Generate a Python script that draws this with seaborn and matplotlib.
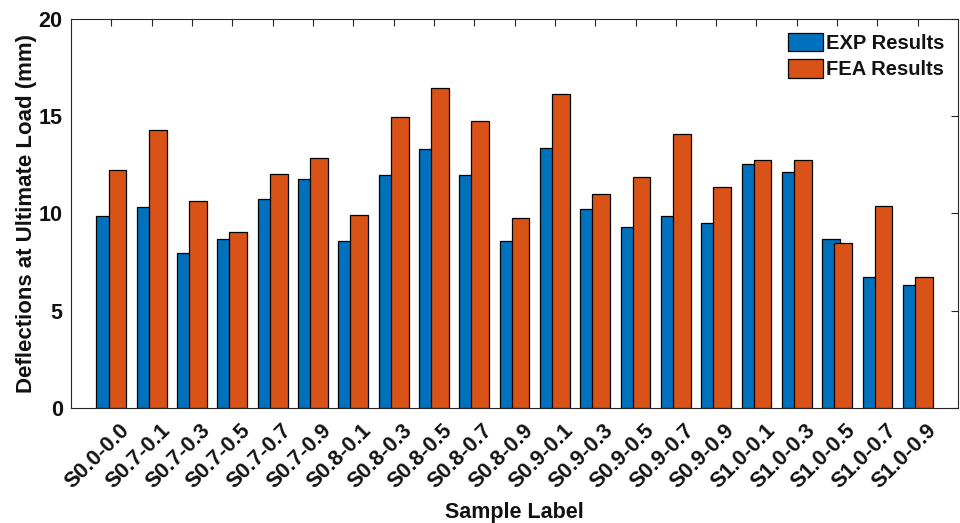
import pandas as pd
import matplotlib
matplotlib.use("Agg")
import matplotlib.pyplot as plt
import matplotlib.transforms as mtransforms
import seaborn as sns

sns.set_style("white")
plt.rcParams["font.family"] = ["Liberation Sans", "DejaVu Sans"]
plt.rcParams["font.weight"] = "bold"

samples = ["S0.0-0.0", "S0.7-0.1", "S0.7-0.3", "S0.7-0.5", "S0.7-0.7", "S0.7-0.9",
           "S0.8-0.1", "S0.8-0.3", "S0.8-0.5", "S0.8-0.7", "S0.8-0.9",
           "S0.9-0.1", "S0.9-0.3", "S0.9-0.5", "S0.9-0.7", "S0.9-0.9",
           "S1.0-0.1", "S1.0-0.3", "S1.0-0.5", "S1.0-0.7", "S1.0-0.9"]
exp_results = [9.88, 10.31, 7.95, 8.68, 10.74, 11.78, 8.60, 11.99, 13.29, 11.95, 8.60,
               13.37, 10.24, 9.28, 9.88, 9.49, 12.52, 12.12, 8.68, 6.73, 6.34]
fea_results = [12.24, 14.28, 10.62, 9.06, 12.00, 12.84, 9.91, 14.97, 16.44, 14.74, 9.78,
               16.13, 11.01, 11.87, 14.09, 11.34, 12.72, 12.76, 8.46, 10.38, 6.73]
series = ["EXP Results", "FEA Results"]

df = pd.concat([
    pd.DataFrame({"sample": samples, "value": exp_results, "series": series[0]}),
    pd.DataFrame({"sample": samples, "value": fea_results, "series": series[1]}),
])

fig = plt.figure(figsize=(9.6, 5.23), dpi=100)
ax = fig.add_axes([0.074, 0.22, 0.924, 0.744])

sns.barplot(data=df, x="sample", y="value", hue="series", order=samples,
            hue_order=series, palette=["#0072BD", "#D95319"], width=0.6,
            edgecolor="black", linewidth=0.9, saturation=1, ax=ax)

# MATLAB style: bars wider than their spacing, FEA drawn over EXP
for p in ax.patches:
    if p.get_height() > 0:
        c = p.get_x() + p.get_width() / 2
        p.set_width(0.44)
        p.set_x(c - 0.22)

ax.set_xlim(-1, len(samples))
ax.set_ylim(0, 20)
ax.set_yticks([0, 5, 10, 15, 20])
ax.tick_params(axis="both", direction="in", length=5, width=0.8, color="#262626",
               labelsize=15.5, labelcolor="#111111", top=True, right=True)
ax.tick_params(axis="y", labelright=False, pad=6)
ax.tick_params(axis="x", pad=5)
ax.set_xticks(range(len(samples)))
ax.set_xticklabels(samples, rotation=45, ha="right", rotation_mode="anchor",
                   fontweight="bold")
shift = mtransforms.ScaledTranslation(0.08, -0.05, fig.dpi_scale_trans)
for lab in ax.get_xticklabels():
    lab.set_transform(lab.get_transform() + shift)
for lab in ax.get_yticklabels():
    lab.set_fontweight("bold")
for s in ax.spines.values():
    s.set_color("#262626")
    s.set_linewidth(0.8)

ax.set_xlabel("Sample Label", fontsize=15.5, fontweight="bold", labelpad=7, color="#111111")
ax.set_ylabel("Deflections at Ultimate Load (mm)", fontsize=16, fontweight="bold",
              labelpad=1, color="#111111")

leg = ax.legend(loc="upper right", frameon=False, fontsize=14.5, handlelength=1.7,
                handleheight=1.0, borderaxespad=0.3, labelspacing=0.33, handletextpad=0.15)
for t in leg.get_texts():
    t.set_fontweight("bold")
    t.set_color("#111111")
for h in leg.legend_handles:
    h.set_edgecolor("black")

fig.savefig("out.png", dpi=100)
